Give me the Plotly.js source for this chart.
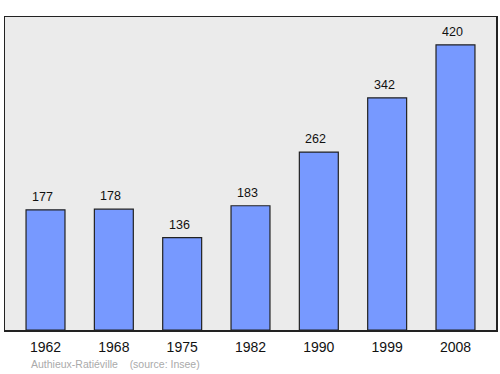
<!DOCTYPE html>
<html><head><meta charset="utf-8">
<script src="https://cdn.plot.ly/plotly-3.0.1.min.js"></script>
<style>body{margin:0;padding:0;background:#fff}#c{width:500px;height:374px}</style>
</head><body><div id="c"></div>
<script>
const years = ["1962","1968","1975","1982","1990","1999","2008"];
const population = [177,178,136,183,262,342,420];
const caption = "Authieux-Ratiéville    (source: Insee)";

const FONT = "Liberation Sans, Arial, sans-serif";
const idx = years.map((_, i) => i);
const trace = {
  type: "bar", x: idx, y: population,
  marker: {color: "#7799ff", line: {color: "#222", width: 1.2}},
  width: 0.57, hoverinfo: "none"
};
const annotations = idx.map(i => ({
  x: i, y: population[i], xref: "x", yref: "y", text: String(population[i]),
  showarrow: false, yanchor: "bottom", yshift: 4, xshift: -3,
  font: {family: FONT, size: 12.5, color: "#111"}
}));
annotations.push({
  xref: "paper", yref: "paper", x: 0.048, y: 0, yshift: -26, xanchor: "left", yanchor: "top",
  text: caption, showarrow: false,
  font: {family: FONT, size: 10.5, color: "#aaaaaa"}
});
const layout = {
  width: 500, height: 374,
  margin: {l: 5, r: 4, t: 17, b: 44, pad: 0},
  paper_bgcolor: "#fff", plot_bgcolor: "#ebebeb",
  showlegend: false,
  font: {family: FONT},
  xaxis: {range: [-0.593, 6.593], tickvals: idx, ticktext: years, showline: true, mirror: true,
          linecolor: "#222", linewidth: 1.5, ticks: "", showgrid: false, zeroline: false,
          ticklabelstandoff: 4,
          tickfont: {family: FONT, size: 14, color: "#111"}},
  yaxis: {range: [0, 461], showline: true, mirror: true, linecolor: "#222", linewidth: 1.5,
          showticklabels: false, ticks: "", showgrid: false, zeroline: false},
  annotations: annotations
};
Plotly.newPlot("c", [trace], layout, {displayModeBar: false, staticPlot: true});
</script></body></html>
